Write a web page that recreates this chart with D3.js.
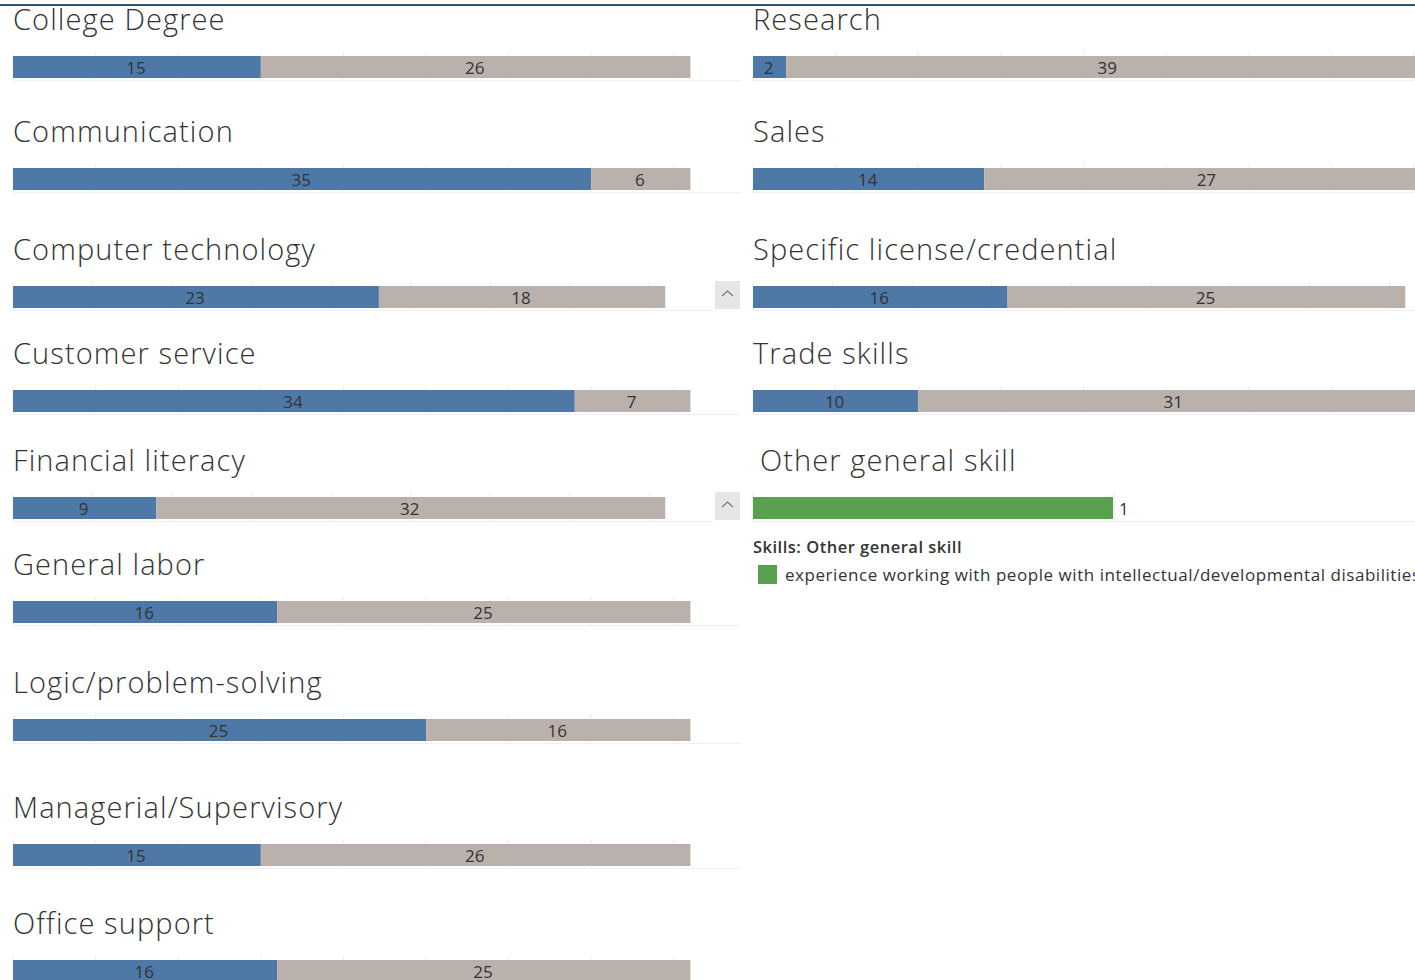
<!DOCTYPE html>
<html>
<head>
<meta charset="utf-8">
<script src="https://cdn.jsdelivr.net/npm/d3@7"></script>
<style>
  body { margin: 0; background: #fff; overflow: hidden; }
  svg { display: block; font-family: "Open Sans", "Noto Sans", sans-serif; }
  .title { fill: #333; font-size: 29px; font-weight: 300; letter-spacing: 1.1px; }
  .lbl { fill: #333; font-size: 17px; }
</style>
</head>
<body>
<svg id="chart" width="1415" height="980"></svg>
<script>
// skills listed in the left column
var leftSkills = ["College Degree", "Communication", "Computer technology", "Customer service",
    "Financial literacy", "General labor", "Logic/problem-solving", "Managerial/Supervisory", "Office support"];
var leftHave = [15, 35, 23, 34, 9, 16, 25, 15, 16];
var leftLack = [26, 6, 18, 7, 32, 25, 16, 26, 25];

// skills listed in the right column
var rightSkills = ["Research", "Sales", "Specific license/credential", "Trade skills"];
var rightHave = [2, 14, 16, 10];
var rightLack = [39, 27, 25, 31];

// the single "other" panel
var otherSkill = "Other general skill";
var otherCategories = ["experience working with people with intellectual/developmental disabilities"];
var otherValues = [1];

var colHave = "#4e79a7";
var colLack = "#bab0ac";
var colOther = "#59a14f";

// panel layout (rows share the same vertical slots in both columns)
var rowTops = [56, 168, 286, 390, 497, 601, 719, 844, 960];
var scrollRows = {"Computer technology": true, "Financial literacy": true, "Specific license/credential": true};
var barH = 22;

var svg = d3.select("#chart");

/* top rule */
svg.append("line")
    .attr("x1", 0).attr("x2", 1415)
    .attr("y1", 5).attr("y2", 5)
    .attr("stroke", "#34506e")
    .attr("stroke-width", 2);

function drawPanel(x0, top, name, have, lack, scroll) {
    var w = scroll ? 700 : 727;
    var x = d3.scaleLinear().domain([0, 44]).range([x0, x0 + w]);
    var g = svg.append("g");

    // faint grid + baseline
    g.selectAll("line.grid")
        .data(x.ticks(9))
        .join("line")
        .attr("class", "grid")
        .attr("x1", d => x(d)).attr("x2", d => x(d))
        .attr("y1", top - 5).attr("y2", top + barH + 2)
        .attr("stroke", "#eeeeee");
    g.append("line")
        .attr("x1", x0).attr("x2", x0 + w)
        .attr("y1", top + barH + 2.5).attr("y2", top + barH + 2.5)
        .attr("stroke", "#f0f0f0");

    g.append("text")
        .attr("class", "title")
        .attr("x", x0)
        .attr("y", top - 26)
        .text(name);

    var segs = [
        {v0: 0, v1: have, val: have, c: colHave},
        {v0: have, v1: have + lack, val: lack, c: colLack}
    ];
    g.selectAll("rect.seg")
        .data(segs)
        .join("rect")
        .attr("class", "seg")
        .attr("x", d => x(d.v0))
        .attr("width", d => x(d.v1) - x(d.v0))
        .attr("y", top)
        .attr("height", barH)
        .attr("fill", d => d.c);
    g.selectAll("text.lbl")
        .data(segs)
        .join("text")
        .attr("class", "lbl")
        .attr("x", d => (x(d.v0) + x(d.v1)) / 2 - 1)
        .attr("y", top + barH / 2)
        .attr("text-anchor", "middle")
        .attr("dominant-baseline", "central")
        .text(d => d.val);

    if (scroll) {
        // little scroll-up button at the pane edge
        var bx = x0 + 702, by = top - 5;
        g.append("rect")
            .attr("x", bx).attr("y", by)
            .attr("width", 25).attr("height", 28)
            .attr("fill", "#e6e6e6");
        g.append("path")
            .attr("d", "M" + (bx + 7) + "," + (by + 15) + " L" + (bx + 12.5) + "," + (by + 10) + " L" + (bx + 18) + "," + (by + 15))
            .attr("fill", "none")
            .attr("stroke", "#777")
            .attr("stroke-width", 1.2);
    }
}

leftSkills.forEach(function(s, i) {
    drawPanel(13, rowTops[i], s, leftHave[i], leftLack[i], !!scrollRows[s]);
});
rightSkills.forEach(function(s, i) {
    drawPanel(753, rowTops[i], s, rightHave[i], rightLack[i], !!scrollRows[s]);
});

/*** Other general skill panel ***/
(function() {
    var top = rowTops[4];
    var x0 = 753, w = 700;
    var x = d3.scaleLinear().domain([0, 1.944]).range([x0, x0 + w]);
    var g = svg.append("g");
    g.selectAll("line.grid")
        .data(x.ticks(2))
        .join("line")
        .attr("x1", d => x(d) + (d > 0 ? 1.5 : 0)).attr("x2", d => x(d) + (d > 0 ? 1.5 : 0))
        .attr("y1", top - 5).attr("y2", top + barH + 2)
        .attr("stroke", "#eeeeee");
    g.append("line")
        .attr("x1", x0).attr("x2", x0 + w)
        .attr("y1", top + barH + 2.5).attr("y2", top + barH + 2.5)
        .attr("stroke", "#f0f0f0");
    g.append("text")
        .attr("class", "title")
        .attr("x", x0 + 7)
        .attr("y", top - 26)
        .text(otherSkill);
    g.selectAll("rect.seg")
        .data(otherValues)
        .join("rect")
        .attr("x", x(0))
        .attr("width", d => x(d) - x(0))
        .attr("y", top)
        .attr("height", barH)
        .attr("fill", colOther);
    g.selectAll("text.lbl")
        .data(otherValues)
        .join("text")
        .attr("class", "lbl")
        .attr("x", d => x(d) + 6)
        .attr("y", top + barH / 2)
        .attr("dominant-baseline", "central")
        .text(d => d);

    // legend
    var lg = svg.append("g").attr("transform", "translate(753, 553)");
    lg.append("text")
        .attr("x", 0).attr("y", 0)
        .attr("fill", "#333")
        .attr("font-size", "16.5px")
        .attr("font-weight", 600)
        .attr("letter-spacing", "0.5px")
        .text("Skills: " + otherSkill);
    lg.selectAll("g.item")
        .data(otherCategories)
        .join("g")
        .attr("class", "item")
        .each(function(d) {
            var it = d3.select(this);
            it.append("rect")
                .attr("x", 5).attr("y", 12)
                .attr("width", 19).attr("height", 19)
                .attr("fill", colOther);
            it.append("text")
                .attr("x", 32).attr("y", 28)
                .attr("fill", "#333")
                .attr("font-size", "17px")
                .attr("letter-spacing", "0.55px")
                .text(d);
        });
})();
</script>
</body>
</html>
